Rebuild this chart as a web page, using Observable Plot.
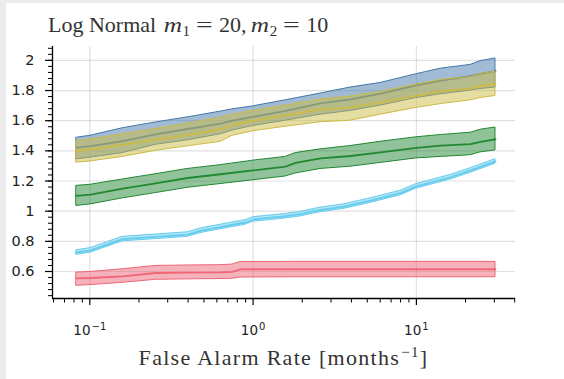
<!DOCTYPE html>
<html><head><meta charset="utf-8">
<script src="https://cdn.jsdelivr.net/npm/d3@7"></script>
<script src="https://cdn.jsdelivr.net/npm/@observablehq/plot@0.6"></script>
<style>
html,body{margin:0;padding:0;}
body{width:564px;height:379px;background:#ececec;position:relative;overflow:hidden;}
#page{position:absolute;left:6px;top:3px;right:0;bottom:0;background:#fff;}
#chart{position:absolute;left:0;top:0;}
.title{position:absolute;left:48px;top:14px;font-family:"Liberation Serif",serif;font-size:22px;line-height:22px;color:#333;white-space:nowrap;}
.xlabel{position:absolute;left:52px;width:463px;top:347px;text-align:center;font-family:"Liberation Serif",serif;font-size:22px;line-height:22px;color:#333;white-space:nowrap;letter-spacing:1.3px;}
.sub{font-size:15px;position:relative;top:4px;margin-left:1px;}
.sup{font-size:15px;position:relative;top:-8px;margin-left:1px;}
.eq{display:inline-block;width:17px;margin:0 6px;text-align:center;transform:scaleX(1.35);}
.m{display:inline-block;transform:scaleX(1.15);margin:0 1px;}
.math{margin-left:2px;}
</style></head><body>
<div id="page"></div>
<div id="chart"></div>
<div class="title">Log Normal<span class="math"> <i class="m">m</i><span class="sub">1</span><span class="eq">=</span>20,&thinsp;<i class="m">m</i><span class="sub">2</span><span class="eq">=</span>10</span></div>
<div class="xlabel">False Alarm Rate [months<span class="sup">−1</span>]</div>
<script>
// ---- data (false alarm rate in months^-1 vs. metric) ----
const fpBY = [0.083, 0.101, 0.159, 0.253, 0.397, 0.632, 0.748, 1.0, 1.58, 2.59, 3.95, 6.03, 10.0, 14.1, 21.5, 24.7, 30.5];
const blueHi  = [1.487,1.50,1.55,1.588,1.622,1.66,1.675,1.695,1.735,1.78,1.82,1.85,1.908,1.945,1.97,1.995,2.013];
const blueMid = [1.421,1.432,1.465,1.51,1.545,1.58,1.60,1.625,1.665,1.715,1.742,1.78,1.835,1.865,1.895,1.91,1.929];
const blueLo  = [1.344,1.355,1.385,1.44,1.47,1.51,1.535,1.565,1.60,1.64,1.665,1.70,1.75,1.775,1.80,1.81,1.82];
const yellowHi  = [1.466,1.475,1.51,1.545,1.58,1.62,1.64,1.665,1.70,1.74,1.76,1.79,1.84,1.87,1.89,1.91,1.925];
const yellowMid = [1.399,1.41,1.44,1.475,1.505,1.545,1.57,1.60,1.635,1.675,1.688,1.72,1.765,1.795,1.815,1.83,1.845];
const yellowLo  = [1.322,1.33,1.36,1.40,1.43,1.46,1.50,1.53,1.56,1.59,1.60,1.64,1.685,1.71,1.735,1.75,1.764];

const fpGreen  = [0.083,0.101,0.159,0.253,0.397,0.632,1.0,1.58,1.82,2.59,3.95,6.03,10.0,14.1,21.5,24.7,30.5];
const greenHi  = [1.168,1.175,1.21,1.245,1.28,1.305,1.335,1.36,1.385,1.41,1.432,1.46,1.49,1.505,1.52,1.54,1.555];
const greenMid = [1.101,1.11,1.15,1.185,1.22,1.245,1.27,1.295,1.32,1.35,1.366,1.39,1.42,1.435,1.444,1.46,1.477];
const greenLo  = [1.035,1.045,1.085,1.12,1.155,1.18,1.205,1.23,1.25,1.28,1.295,1.32,1.35,1.36,1.371,1.39,1.403];

const fpCyan  = [0.083,0.101,0.159,0.253,0.397,0.476,0.632,0.748,0.898,1.0,1.535,1.95,2.48,3.58,5.23,7.99,10.0,16.2,21.5,30.5];
const cyanHi  = [0.741,0.755,0.83,0.845,0.86,0.885,0.91,0.925,0.94,0.96,0.98,0.995,1.02,1.045,1.085,1.135,1.18,1.24,1.285,1.345];
const cyanMid = [0.726,0.74,0.815,0.83,0.845,0.87,0.895,0.91,0.925,0.945,0.965,0.98,1.005,1.03,1.07,1.12,1.165,1.225,1.27,1.33];
const cyanLo  = [0.711,0.725,0.80,0.815,0.83,0.855,0.88,0.895,0.91,0.93,0.95,0.965,0.99,1.015,1.055,1.105,1.15,1.21,1.255,1.315];

const fpRed  = [0.083,0.101,0.159,0.253,0.397,0.632,0.748,0.837,1.95,7.99,30.5];
const redHi  = [0.593,0.597,0.615,0.637,0.64,0.642,0.646,0.663,0.664,0.664,0.664];
const redMid = [0.555,0.557,0.568,0.59,0.592,0.594,0.598,0.615,0.615,0.615,0.615];
const redLo  = [0.505,0.51,0.525,0.545,0.548,0.55,0.552,0.56,0.562,0.562,0.562];

// ---- ticks ----
const yMajor = [0.6, 0.8, 1, 1.2, 1.4, 1.6, 1.8, 2];
const yMinor = d3.range(0.44, 2.09, 0.04);
const xMajor = [0.1, 1, 10];
const xMinor = [0.06,0.07,0.08,0.09,0.2,0.3,0.4,0.5,0.6,0.7,0.8,0.9,2,3,4,5,6,7,8,9,20,30,40];

const series = [
  {color: "#4477AA", x: fpBY, lo: blueLo, mid: blueMid, hi: blueHi},
  {color: "#CCBB44", x: fpBY, lo: yellowLo, mid: yellowMid, hi: yellowHi},
  {color: "#228833", x: fpGreen, lo: greenLo, mid: greenMid, hi: greenHi},
  {color: "#66CCEE", x: fpCyan, lo: cyanLo, mid: cyanMid, hi: cyanHi},
  {color: "#EE6677", x: fpRed, lo: redLo, mid: redMid, hi: redHi}
];

const xDomain = [0.0591, 40.45];
const yDomain = [0.421, 2.092];

const marks = [
  Plot.gridX(xMajor, {stroke: "#000", strokeOpacity: 0.12, strokeWidth: 1.2}),
  Plot.gridY(yMajor, {stroke: "#000", strokeOpacity: 0.12, strokeWidth: 1.2})
];
for (const s of series) {
  const rows = s.x.map((x, i) => ({x, lo: s.lo[i], mid: s.mid[i], hi: s.hi[i]}));
  marks.push(
    Plot.areaY(rows, {x: "x", y1: "lo", y2: "hi", fill: s.color, fillOpacity: 0.5, stroke: s.color, strokeWidth: 1}),
    Plot.lineY(rows, {x: "x", y: "mid", stroke: s.color, strokeWidth: 1.8})
  );
}
marks.push(
  Plot.ruleX([xDomain[0]], {stroke: "#000", strokeWidth: 1.3}),
  Plot.ruleY([yDomain[0]], {stroke: "#000", strokeWidth: 1.3}),
  Plot.axisY(yMajor, {anchor: "left", tickSize: 7, tickPadding: 11, fontSize: 14.5, label: null,
    tickFormat: d => String(+d.toFixed(1)), stroke: "#000", strokeWidth: 1.2}),
  Plot.axisY(yMinor, {anchor: "left", tickSize: 4, tickFormat: () => "", label: null, stroke: "#000", strokeWidth: 1}),
  Plot.axisX(xMajor, {anchor: "bottom", tickSize: 7, tickPadding: 20, fontSize: 13.5, label: null,
    tickFormat: d => String(Math.round(Math.log10(d))).replace("-", "−"), stroke: "#000", strokeWidth: 1.2}),
  Plot.axisX(xMinor, {anchor: "bottom", tickSize: 4.5, tickFormat: () => "", label: null, stroke: "#000", strokeWidth: 1})
);

const svg = Plot.plot({
  width: 564, height: 379,
  marginLeft: 52, marginRight: 49, marginTop: 46, marginBottom: 81,
  x: {type: "log", domain: xDomain, label: null},
  y: {domain: yDomain, label: null},
  style: {background: "transparent", fontFamily: "'DejaVu Sans', sans-serif", fontSize: "14px", color: "#222"},
  marks
});

svg.querySelectorAll('[aria-label="x-axis tick label"] text').forEach(t => {
  const e = t.textContent;
  if (!e) return;
  t.textContent = "10";
  const ts = document.createElementNS("http://www.w3.org/2000/svg", "tspan");
  ts.setAttribute("dy", "-5");
  ts.setAttribute("dx", "1");
  ts.setAttribute("font-size", "10");
  ts.textContent = e;
  t.appendChild(ts);
});

document.getElementById("chart").appendChild(svg);
</script>
</body></html>
